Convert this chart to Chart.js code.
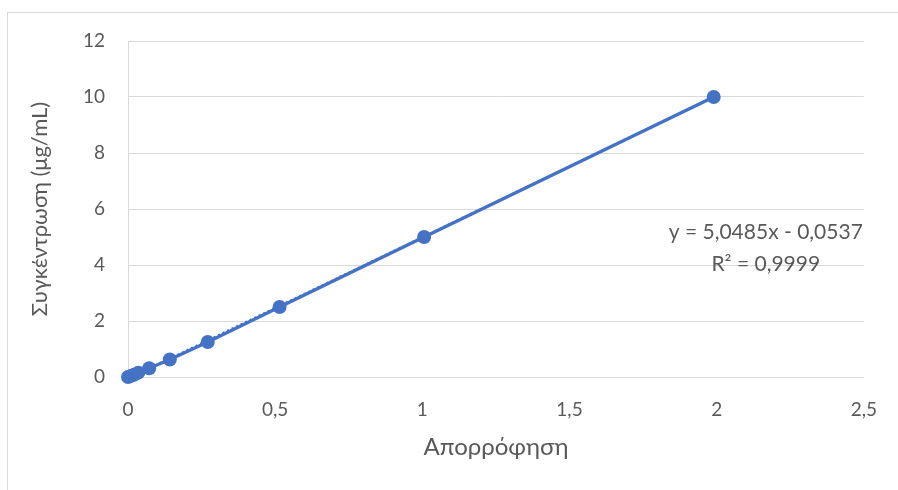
<!DOCTYPE html>
<html>
<head>
<meta charset="utf-8">
<script src="https://cdn.jsdelivr.net/npm/chart.js@4.4.1/dist/chart.umd.min.js"></script>
<style>
  html, body { margin: 0; padding: 0; background: #fff; overflow: hidden; }
  #wrap { position: relative; width: 898px; height: 490px; }
  #frame { position: absolute; left: 7px; top: 12px; width: 900px; height: 500px;
           border: 1px solid #D9D9D9; box-sizing: border-box; pointer-events: none; }
  canvas { position: absolute; left: 0; top: 0; }
</style>
</head>
<body>
<div id="wrap">
  <canvas id="chart" width="898" height="490"></canvas>
  <div id="frame"></div>
</div>
<script>
// Calibration standards: absorbance vs concentration (µg/mL)
const absorbance    = [0.000, 0.010, 0.020, 0.035, 0.072, 0.142, 0.271, 0.515, 1.006, 1.990];
const concentration = [0.000, 0.039, 0.078, 0.156, 0.3125, 0.625, 1.25, 2.5, 5.0, 10.0];

// Linear trendline coefficients as reported on the chart
const slope = 5.0485;
const intercept = -0.0537;
const rSquared = 0.9999;

const xTicks = [0, 0.5, 1, 1.5, 2, 2.5];
const yTicks = [0, 2, 4, 6, 8, 10, 12];

const xTitle = 'Απορρόφηση';
const yTitle = 'Συγκέντρωση (μg/mL)';

const fmt = (v, d) => v.toFixed(d).replace('.', ',');
const tickFmt = v => String(v).replace('.', ',');

const points = absorbance.map((x, i) => ({ x, y: concentration[i] }));
const xEnds = [absorbance[0], absorbance[absorbance.length - 1]];
const trend = xEnds.map(x => ({ x, y: slope * x + intercept }));

const FONT = 'Lato, "Open Sans", sans-serif';
const GREY = '#595959';
const BLUE = '#4472C4';

const equationLabel = {
  id: 'equationLabel',
  afterDatasetsDraw(chart) {
    const { ctx, chartArea } = chart;
    ctx.save();
    ctx.fillStyle = GREY;
    ctx.font = '21px ' + FONT;
    ctx.textBaseline = 'middle';
    const right = chartArea.right - 1;
    const line1 = 'y = ' + fmt(slope, 4) + 'x - ' + fmt(Math.abs(intercept), 4);
    ctx.textAlign = 'right';
    ctx.fillText(line1, right, 232);
    const w1 = ctx.measureText(line1).width;
    ctx.textAlign = 'center';
    ctx.fillText('R² = ' + fmt(rSquared, 4), right - w1 / 2, 264);
    ctx.restore();
  }
};

new Chart(document.getElementById('chart'), {
  type: 'scatter',
  data: {
    datasets: [
      {
        label: 'trend',
        data: trend,
        showLine: true,
        borderColor: BLUE,
        borderWidth: 2,
        borderDash: [2, 3],
        pointRadius: 0,
        clip: false,
        order: 2
      },
      {
        label: 'data',
        data: points,
        showLine: true,
        borderColor: BLUE,
        backgroundColor: BLUE,
        borderWidth: 3.5,
        pointRadius: 7,
        pointHoverRadius: 7,
        pointBorderWidth: 0,
        clip: false,
        order: 1
      }
    ]
  },
  options: {
    responsive: false,
    animation: false,
    devicePixelRatio: 1,
    layout: { padding: { top: 41, right: 32, left: 0, bottom: 18 } },
    plugins: { legend: { display: false }, tooltip: { enabled: false } },
    scales: {
      x: {
        type: 'linear',
        min: 0, max: 2.5,
        afterBuildTicks: s => { s.ticks = xTicks.map(v => ({ value: v })); },
        afterFit: s => { s.height = 95; },
        grid: { display: false, drawTicks: false },
        border: { display: true, color: '#D9D9D9', width: 1 },
        ticks: { color: GREY, font: { family: FONT, size: 19 }, padding: 21,
                 maxRotation: 0, callback: v => tickFmt(v) },
        title: { display: true, text: xTitle, color: GREY,
                 font: { family: FONT, size: 24 }, padding: { top: 0, bottom: 10 } }
      },
      y: {
        type: 'linear',
        min: 0, max: 12,
        afterBuildTicks: s => { s.ticks = yTicks.map(v => ({ value: v })); },
        afterFit: s => { s.width = 128; },
        grid: { color: '#D9D9D9', lineWidth: 1, drawTicks: false },
        border: { display: true, color: '#D9D9D9', width: 1 },
        ticks: { color: GREY, font: { family: FONT, size: 19 }, padding: 23,
                 callback: v => tickFmt(v) },
        title: { display: true, text: yTitle, color: GREY,
                 font: { family: FONT, size: 22 }, padding: { top: 27, bottom: 0 } }
      }
    }
  },
  plugins: [equationLabel]
});
</script>
</body>
</html>
